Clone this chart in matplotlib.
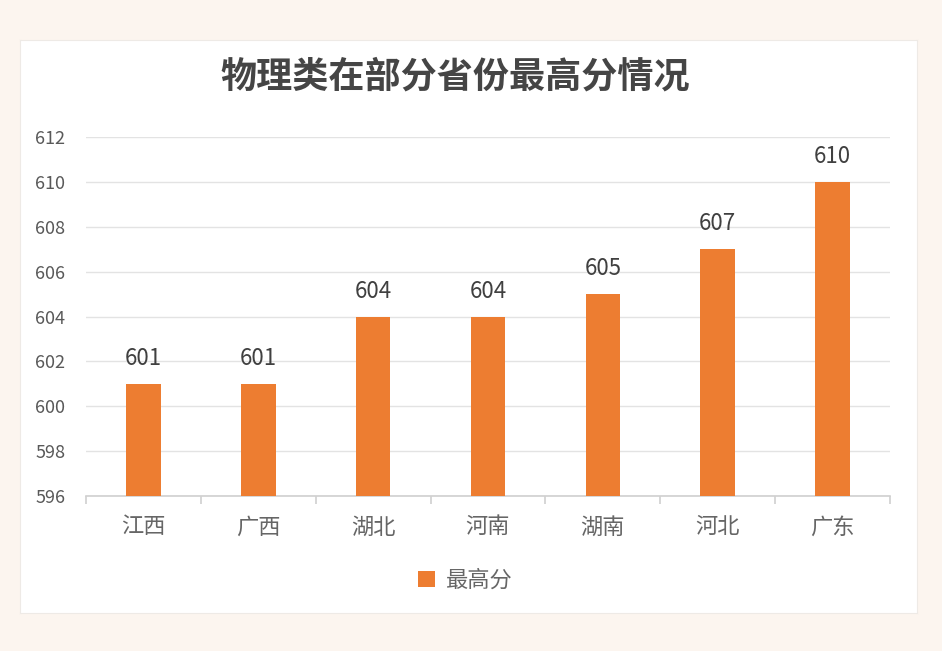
import matplotlib
matplotlib.use("Agg")
import matplotlib.pyplot as plt

plt.rcParams['font.family'] = ['Noto Sans CJK SC', 'DejaVu Sans']

categories = ['江西', '广西', '湖北', '河南', '湖南', '河北', '广东']
values = [601, 601, 604, 604, 605, 607, 610]
yticks = [596, 598, 600, 602, 604, 606, 608, 610, 612]
title = '物理类在部分省份最高分情况'
series_name = '最高分'

bar_color = '#ED7D31'
W, H = 942, 651
fig = plt.figure(figsize=(W / 100, H / 100), dpi=100)
fig.patch.set_facecolor('#FCF5EF')

# white panel
bg = fig.add_axes([20 / W, 1 - 613 / H, (917 - 20) / W, (613 - 40) / H], zorder=-1)
bg.set_facecolor('white')
bg.set_xticks([])
bg.set_yticks([])
for s in bg.spines.values():
    s.set_color('#EEEAE6')
    s.set_linewidth(0.8)

ax = fig.add_axes([86 / W, 1 - 496 / H, (890 - 86) / W, (496 - 137) / H], zorder=1)
ax.set_facecolor('none')
x = list(range(len(categories)))
bars = ax.bar(x, values, width=0.30, color=bar_color, zorder=3)
ax.set_ylim(596, 612)
ax.set_xlim(-0.5, len(categories) - 0.5)
ax.set_yticks(yticks)
ax.set_yticklabels([str(v) for v in yticks], fontsize=13, color='#595959')
ax.grid(axis='y', color='#E3E3E3', linewidth=1, zorder=0)
ax.tick_params(axis='y', length=0, pad=15)
for s in ['top', 'right', 'left']:
    ax.spines[s].set_visible(False)
ax.spines['bottom'].set_color('#D0D0D0')
ax.spines['bottom'].set_linewidth(1.2)

# category labels + boundary ticks
ax.set_xticks(x)
ax.set_xticklabels(categories, fontsize=16, color='#666666')
ax.tick_params(axis='x', length=0, pad=14)
ax.set_xticks([i - 0.5 for i in range(len(categories) + 1)], minor=True)
ax.tick_params(axis='x', which='minor', length=6, color='#D0D0D0', width=1.2)

for xi, v in zip(x, values):
    ax.annotate(str(v), (xi, v), xytext=(0, 10), textcoords='offset points',
                ha='center', va='bottom', fontsize=16, color='#404040')

fig.text(455 / W, 1 - 77 / H, title, ha='center', va='center', fontsize=26,
         fontweight='bold', color='#454545')

# legend
leg = ax.legend([bars[0]], [series_name], loc='center', bbox_to_anchor=(0.472, -0.235),
                frameon=False, fontsize=16, handlelength=0.75, handleheight=0.75,
                handletextpad=0.5)
for t in leg.get_texts():
    t.set_color('#666666')

fig.savefig('out.png', dpi=100, facecolor=fig.get_facecolor())
